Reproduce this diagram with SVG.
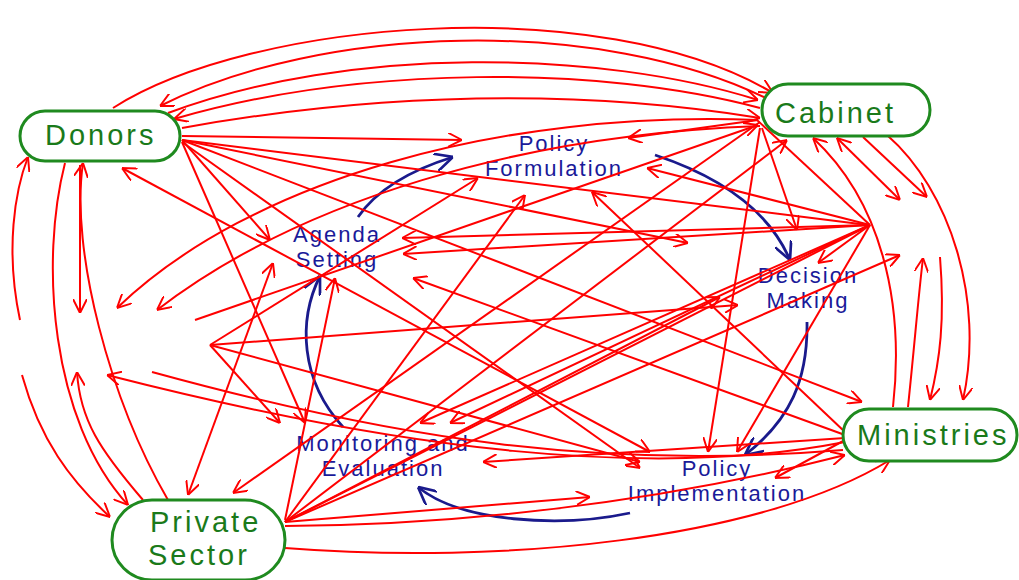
<svg xmlns="http://www.w3.org/2000/svg" width="1019" height="580" viewBox="0 0 1019 580">
<style>
.r{fill:none;stroke:#ff0000;stroke-width:2}
.b{fill:none;stroke:#1a1a8c;stroke-width:2.8}
.node{fill:#ffffff;stroke:#1f8a1f;stroke-width:3}
.nt{font-family:"Liberation Sans",Arial,sans-serif;font-size:29px;fill:#1a7a1a;letter-spacing:3px}
.st{font-family:"Liberation Sans",Arial,sans-serif;font-size:22px;fill:#1a1a99;text-anchor:middle;letter-spacing:2px}
</style>
<defs>
<marker id="a" viewBox="0 0 10 10" refX="10" refY="5" markerWidth="14" markerHeight="14" markerUnits="userSpaceOnUse" orient="auto-start-reverse"><path d="M0,0 L10,5 L0,10" fill="none" stroke="#ff0000" stroke-width="1.4"/></marker>
<marker id="n" viewBox="0 0 10 10" refX="10" refY="5" markerWidth="18" markerHeight="18" markerUnits="userSpaceOnUse" orient="auto"><path d="M0,0 L10,5 L0,10" fill="none" stroke="#1a1a8c" stroke-width="1.5"/></marker>
</defs>
<rect width="1019" height="580" fill="#ffffff"/>

<g id="stages">
<text class="st" x="554" y="151">Policy</text>
<text class="st" x="554" y="176">Formulation</text>
<text class="st" x="337" y="242">Agenda</text>
<text class="st" x="337" y="267">Setting</text>
<text class="st" x="808" y="283">Decision</text>
<text class="st" x="808" y="308">Making</text>
<text class="st" x="383" y="451">Monitoring and</text>
<text class="st" x="383" y="476">Evaluation</text>
<text class="st" x="717" y="476">Policy</text>
<text class="st" x="717" y="501">Implementation</text>
</g>

<g id="cycle" marker-end="url(#n)">
<path class="b" d="M358,217 Q385,178 453,157"/>
<path class="b" d="M655,155 Q760,190 790,260"/>
<path class="b" d="M807,322 C808,380 790,420 745,455"/>
<path class="b" d="M630,513 C560,528 460,522 418,487"/>
<path class="b" d="M343,427 C300,380 298,320 320,276"/>
</g>

<g id="connectors">
<path class="r" marker-end="url(#a)" d="M113,108 C250,20 600,-10 773,93"/>
<path class="r" marker-end="url(#a)" d="M770,100 C600,15 320,25 160,106"/>
<path class="r" marker-end="url(#a)" d="M168,113 C350,45 600,50 758,100"/>
<path class="r" marker-end="url(#a)" d="M760,108 C600,65 360,65 174,119"/>
<path class="r" marker-end="url(#a)" d="M182,128 C420,85 620,95 760,118"/>
<path class="r" marker-end="url(#a)" d="M182,136 L462,140"/>
<path class="r" marker-end="url(#a)" d="M182,140 L270,240"/>
<path class="r" marker-end="url(#a)" d="M182,142 L305,423"/>
<path class="r" marker-end="url(#a)" d="M182,140 L688,243"/>
<path class="r" d="M182,140 L868,225"/>
<path class="r" marker-end="url(#a)" d="M182,140 L862,402"/>
<path class="r" marker-start="url(#a)" marker-end="url(#a)" d="M122,168 L650,452"/>
<path class="r" marker-end="url(#a)" d="M182,142 L640,468"/>
<path class="r" marker-end="url(#a)" d="M758,120 C500,110 250,180 117,308"/>
<path class="r" marker-end="url(#a)" d="M760,126 C520,135 300,200 157,310"/>
<path class="r" marker-end="url(#a)" d="M758,120 L628,138"/>
<path class="r" marker-end="url(#a)" d="M760,122 L233,493"/>
<path class="r" marker-end="url(#a)" d="M195,320 L758,125"/>
<path class="r" marker-end="url(#a)" d="M760,128 L708,452"/>
<path class="r" marker-end="url(#a)" d="M762,128 L797,230"/>
<path class="r" marker-end="url(#a)" d="M285,522 L787,140"/>
<path class="r" marker-end="url(#a)" d="M870,225 L402,238"/>
<path class="r" marker-end="url(#a)" d="M870,225 L403,254"/>
<path class="r" marker-end="url(#a)" d="M870,225 L818,263"/>
<path class="r" marker-end="url(#a)" d="M870,225 L420,423"/>
<path class="r" marker-end="url(#a)" d="M870,225 L450,423"/>
<path class="r" marker-end="url(#a)" d="M870,225 L737,452"/>
<path class="r" marker-end="url(#a)" d="M870,225 L647,168"/>
<path class="r" d="M870,225 L285,522"/>
<path class="r" d="M870,225 L757,120"/>
<path class="r" marker-end="url(#a)" d="M210,345 L280,423"/>
<path class="r" marker-end="url(#a)" d="M210,345 L738,305"/>
<path class="r" marker-end="url(#a)" d="M210,345 L640,462"/>
<path class="r" marker-end="url(#a)" d="M210,345 L478,178"/>
<path class="r" marker-start="url(#a)" marker-end="url(#a)" d="M273,263 L188,495"/>
<path class="r" marker-end="url(#a)" d="M285,520 L335,278"/>
<path class="r" marker-end="url(#a)" d="M285,522 L525,195"/>
<path class="r" marker-end="url(#a)" d="M285,522 L720,297"/>
<path class="r" marker-end="url(#a)" d="M285,522 L590,497"/>
<path class="r" marker-end="url(#a)" d="M285,526 C450,525 650,505 845,455"/>
<path class="r" marker-end="url(#a)" d="M285,548 C500,565 760,540 890,460"/>
<path class="r" marker-end="url(#a)" d="M285,522 L900,255"/>
<path class="r" marker-end="url(#a)" d="M845,435 L413,278"/>
<path class="r" marker-end="url(#a)" d="M845,432 L592,192"/>
<path class="r" marker-end="url(#a)" d="M845,438 L483,462"/>
<path class="r" marker-end="url(#a)" d="M845,442 C650,480 400,450 107,375"/>
<path class="r" d="M152,372 C400,440 600,470 843,450"/>
<path class="r" marker-end="url(#a)" d="M845,440 L775,478"/>
<path class="r" marker-end="url(#a)" d="M887,135 C950,190 985,300 963,400"/>
<path class="r" marker-end="url(#a)" d="M893,407 C905,300 880,200 813,138"/>
<path class="r" marker-start="url(#a)" marker-end="url(#a)" d="M837,138 L900,200"/>
<path class="r" marker-end="url(#a)" d="M863,137 L927,197"/>
<path class="r" marker-end="url(#a)" d="M908,407 C915,340 918,300 923,258"/>
<path class="r" marker-end="url(#a)" d="M940,257 C945,320 940,360 930,400"/>
<path class="r" marker-end="url(#a)" d="M20,320 C5,250 15,190 28,157"/>
<path class="r" marker-end="url(#a)" d="M22,375 C40,440 70,480 110,517"/>
<path class="r" marker-end="url(#a)" d="M65,163 C40,260 50,420 128,505"/>
<path class="r" marker-end="url(#a)" d="M168,500 C110,400 70,250 83,163"/>
<path class="r" marker-end="url(#a)" d="M80,165 L80,313"/>
<path class="r" marker-end="url(#a)" d="M143,500 C100,450 80,420 77,372"/>
</g>

<g id="donors">
<rect class="node" x="20" y="111" width="160" height="50" rx="25"/>
<text class="nt" x="45" y="145">Donors</text>
</g>
<g id="cabinet">
<rect class="node" x="762" y="84" width="168" height="52" rx="26"/>
<text class="nt" x="775" y="123">Cabinet</text>
</g>
<g id="ministries">
<rect class="node" x="843" y="409" width="174" height="52" rx="26"/>
<text class="nt" x="857" y="445">Ministries</text>
</g>
<g id="private-sector">
<rect class="node" x="112" y="500" width="173" height="80" rx="40"/>
<text class="nt" x="150" y="532">Private</text>
<text class="nt" x="148" y="565">Sector</text>
</g>
</svg>
